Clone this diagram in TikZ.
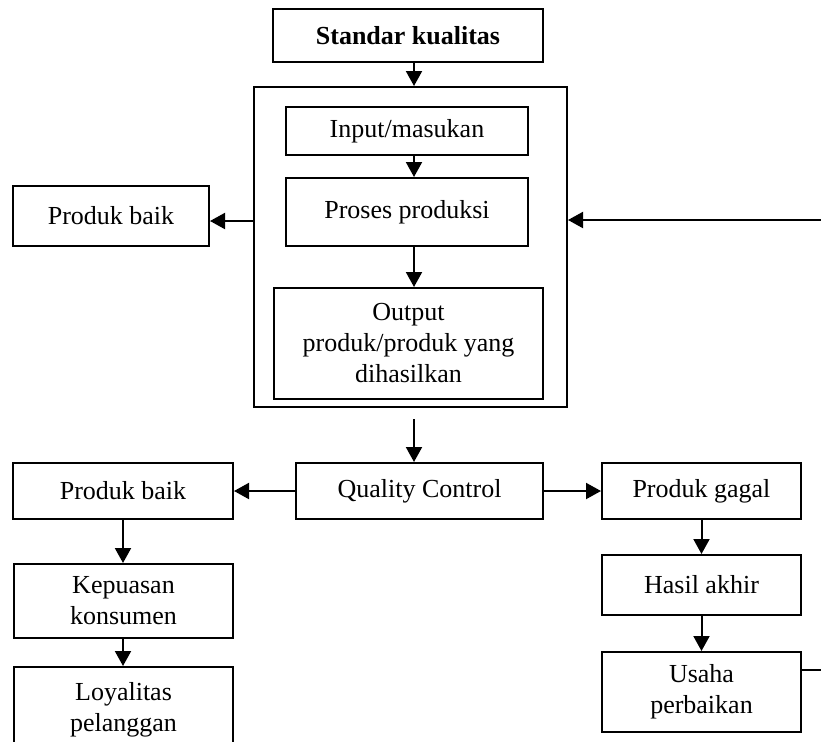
\documentclass[tikz,border=0pt]{standalone}
\usepackage{fontspec}
\setmainfont{Liberation Serif}
\usetikzlibrary{arrows.meta,fit,calc}
\tikzset{
  box/.style={draw, line width=1pt, inner sep=0pt},
  txt/.style={align=center, inner sep=0pt, font=\fontsize{13}{15.5}\selectfont},
  arr/.style={line width=1pt, -{Triangle[length=7.5pt,width=8pt]}},
}
\begin{document}
\begin{tikzpicture}[x=0.5pt,y=-0.5pt]
\clip (0,0) rectangle (821,741);
\fill[white] (0,0) rectangle (821,741);
\coordinate (ax) at (414,0);
\coordinate (lx) at (123,0);
% boxes
\node[box, fit={(273,9)(543,62)}] (std) {};
\node[txt] at (std.center) {\bfseries Standar kualitas};
\node[box, fit={(254,87)(567,407)}] (outer) {};
\node[box, fit={(286,107)(528,155)}] (inp) {};
\node[txt] at (inp.center) {Input/masukan};
\node[box, fit={(286,178)(528,246)}] (proc) {};
\node[txt] at (proc.center) {Proses produksi};
\node[box, fit={(274,288)(543,399)}] (out) {};
\node[txt] at (out.center) {Output\\produk/produk yang\\dihasilkan};
\node[box, fit={(13,186)(209,246)}] (pb1) {};
\node[txt] at (pb1.center) {Produk baik};
\node[box, fit={(296,463)(543,519)}] (qc) {};
\node[txt] at (qc.center) {Quality Control};
\node[box, fit={(13,463)(233,519)}] (pb2) {};
\node[txt] at (pb2.center) {Produk baik};
\node[box, fit={(602,463)(801,519)}] (pg) {};
\node[txt] at (pg.center) {Produk gagal};
\node[box, fit={(14,564)(233,638)}] (kep) {};
\node[txt] at (kep.center) {Kepuasan\\konsumen};
\node[box, fit={(14,667)(233,755)}] (loy) {};
\node[txt] at ($(loy.center)+(0,-1)$) {Loyalitas\\pelanggan};
\node[box, fit={(602,555)(801,615)}] (has) {};
\node[txt] at (has.center) {Hasil akhir};
\node[box, fit={(602,652)(801,732)}] (usa) {};
\node[txt] at (usa.center) {Usaha\\perbaikan};
% connectors
\draw[arr] (std.south -| ax) -- (outer.north -| ax);
\draw[arr] (inp.south -| ax) -- (proc.north -| ax);
\draw[arr] (proc.south -| ax) -- (out.north -| ax);
\draw[arr] ($(outer.south -| ax)+(0,11)$) -- (qc.north -| ax);
\draw[arr] (outer.west |- 0,221) -- (pb1.east |- 0,221);
\coordinate (fbr) at (845,670);
\coordinate (fbt) at (845,220);
\draw[arr] (usa.east |- fbr) -- (fbr) -- (fbt) -- (outer.east |- fbt);
\draw[arr] (qc.west) -- (pb2.east |- qc.west);
\draw[arr] (qc.east) -- (pg.west |- qc.east);
\draw[arr] (pb2.south -| lx) -- (kep.north -| lx);
\draw[arr] (kep.south -| lx) -- (loy.north -| lx);
\draw[arr] (pg.south) -- (has.north);
\draw[arr] (has.south) -- (usa.north);
\end{tikzpicture}
\end{document}
